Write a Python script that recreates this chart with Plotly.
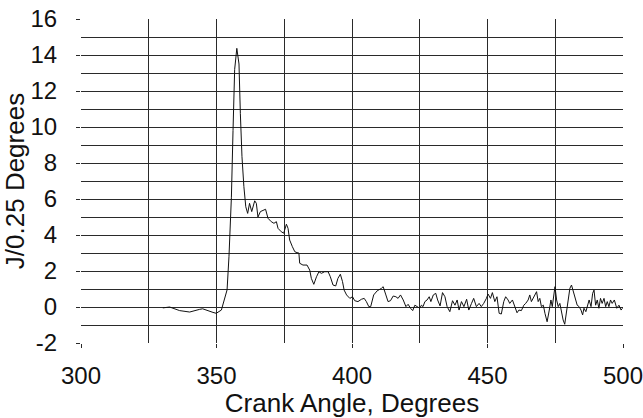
import plotly.graph_objects as go

crank_angle = [
    330.2, 332.7, 336.4, 340.1, 343.8, 344.9, 348.7, 349.9, 351.8, 353.0, 353.9,
    354.6, 355.5, 356.1, 356.7, 357.5, 358.3, 358.8, 359.4, 360.1,
    360.8, 361.5, 362.2, 363.0, 364.1, 364.7, 365.3, 366.2, 367.2, 368.1, 369.0,
    370.2, 371.2, 372.1, 372.7, 373.9, 374.8, 375.8, 376.4, 377.0, 378.0, 378.9,
    379.7, 380.4,
    380.7, 381.9, 383.4, 384.4, 385.0, 385.9, 386.9, 387.8, 388.7, 389.9, 391.2,
    392.0, 393.0, 394.0, 394.8, 395.7, 396.5, 397.1, 398.0, 399.2, 400.2, 401.0,
    402.2, 403.5, 404.5, 405.3, 406.2, 406.9,
    408.0, 409.3, 410.9, 411.5, 412.5, 413.3, 414.2, 415.2, 416.2, 417.0, 417.9,
    418.9, 419.9, 420.7, 421.6, 422.4, 423.2, 424.0, 425.0, 425.6, 426.2, 426.9,
    427.7, 428.5, 429.1, 430.0, 430.9, 431.6, 432.5, 433.4, 434.3, 435.1, 436.1,
    437.1, 438.0, 438.8, 439.5, 440.4, 441.3, 442.3, 443.1, 444.1, 444.9, 445.9,
    446.9, 447.7, 448.6, 449.6, 450.2, 451.1, 451.8, 452.7, 453.5, 454.3, 455.1,
    456.0, 456.7, 457.6, 458.2, 459.2, 460.1, 460.9, 461.6, 462.5, 463.4, 464.1,
    465.0, 465.6, 466.2,
    467.5, 468.1, 468.7, 469.3, 469.9, 470.6, 471.2, 472.0, 472.8, 473.4, 473.9,
    474.5, 474.9, 475.5, 476.1, 476.7, 477.3, 477.9, 478.5, 479.1, 479.7, 480.4,
    481.0, 481.6, 482.2, 483.1, 483.8, 484.5, 485.1, 485.6, 486.3, 486.9, 487.5,
    488.2, 488.8, 489.3, 489.9, 490.5, 491.1, 491.7, 492.3, 493.0, 493.6, 494.2,
    494.8, 495.4, 496.0, 496.8, 497.7, 498.5, 499.3, 499.8,
]

energy = [
    -0.05, 0.0, -0.2, -0.28, -0.13, -0.1, -0.3, -0.35, -0.17, 0.4, 0.95,
    2.8, 6.1, 9.8, 13.2, 14.37, 13.5, 10.76, 8.35, 6.7,
    5.57, 5.2, 5.76, 5.3, 5.9, 5.76, 5.0, 5.3, 5.35, 5.43, 4.93,
    4.74, 4.65, 4.74, 4.37, 4.18, 4.1, 4.6, 4.37, 3.72, 3.35, 3.07,
    3.02, 3.0,
    2.43, 2.33, 2.33, 2.05, 1.59, 1.26, 1.68, 1.96, 1.87, 1.96, 1.96,
    1.68, 1.22, 1.17, 1.59, 1.82, 1.41, 0.94, 0.67, 0.48, 0.57, 0.35,
    0.3, 0.43, 0.48, 0.3, 0.02, 0.02,
    0.67, 0.9, 1.04, 1.13, 0.67, 0.3, 0.35, 0.61, 0.57, 0.48, 0.67,
    0.39, 0.02, 0.15, -0.07, -0.2, 0.1, 0.02, -0.07, 0.1, 0.02, 0.3,
    0.39, 0.57, 0.3, 0.67, 0.76, 0.39, 0.06, 0.8, 0.57, 0.02, -0.26,
    0.35, 0.1, 0.39, -0.17, 0.3, 0.02, 0.43, -0.17, 0.2, 0.48, 0.02,
    0.2, 0.02, 0.2, 0.48, 0.72, 0.48, 0.8, 0.3, 0.57, -0.35, -0.39,
    0.3, 0.57, 0.39, 0.2, 0.39, 0.02, -0.32, -0.17, -0.2, 0.1, 0.2,
    0.39, 0.67, 0.3,
    0.67, 0.85, 0.3, 0.48, 0.02, 0.1, -0.35, -0.82, -0.17, 0.39, 0.02,
    0.76, 1.13, 0.39, 0.02, 0.2, -0.35, -0.72, -0.96, -0.35, 0.48, 1.04,
    1.22, 0.85, 0.48, 0.1, 0.02, -0.17, -0.44, -0.07, -0.26, 0.1, 0.39,
    0.02, 0.76, 0.94, 0.1, 0.39, -0.07, 0.48, 0.2, 0.48, 0.02, 0.3,
    0.02, 0.39, 0.2, 0.39, -0.07, 0.1, -0.17, -0.07,
]

x_tick_values = [300, 350, 400, 450, 500]
x_tick_labels = ["300", "350", "400", "450", "500"]
y_tick_values = [-2, 0, 2, 4, 6, 8, 10, 12, 14, 16]
y_tick_labels = ["-2", "0", "2", "4", "6", "8", "10", "12", "14", "16"]

x_range = [300, 500]
y_range = [-2, 16]
x_title = "Crank Angle, Degrees"
y_title = "J/0.25 Degrees"

font_family = "Liberation Sans, Arial, Helvetica, sans-serif"
grid_color = "#2a2a2a"

fig = go.Figure()
fig.add_trace(go.Scatter(
    x=crank_angle, y=energy, mode="lines",
    line=dict(color="#111111", width=1),
    showlegend=False, hoverinfo="skip",
))

fig.update_layout(
    template="none",
    width=643, height=418,
    margin=dict(l=81, r=20, t=19, b=75, autoexpand=False),
    paper_bgcolor="white", plot_bgcolor="white",
    font=dict(family=font_family, size=24, color="#111111"),
    showlegend=False,
    xaxis=dict(
        range=x_range, tickmode="array",
        tickvals=x_tick_values, ticktext=x_tick_labels,
        showgrid=True, gridcolor=grid_color, gridwidth=1,
        minor=dict(dtick=25, tick0=300, showgrid=True, gridcolor=grid_color, gridwidth=1),
        zeroline=False, showline=False, automargin=False,
        ticks="outside", ticklen=4, tickcolor=grid_color, tickwidth=1,
        ticklabelstandoff=7, ticklabeloverflow="allow",
        title=dict(text=x_title, standoff=10, font=dict(size=26)),
        tickfont=dict(size=24),
    ),
    yaxis=dict(
        range=y_range, tickmode="array",
        tickvals=y_tick_values, ticktext=y_tick_labels,
        showgrid=True, gridcolor=grid_color, gridwidth=1,
        minor=dict(dtick=1, tick0=-2, showgrid=True, gridcolor=grid_color, gridwidth=1),
        zeroline=False, showline=False, automargin=False,
        ticks="outside", ticklen=4, tickcolor=grid_color, tickwidth=1,
        ticklabelstandoff=14, ticklabeloverflow="allow",
        title=dict(text=y_title, standoff=0, font=dict(size=26)),
        tickfont=dict(size=24),
    ),
)

fig.write_html("out.html")
